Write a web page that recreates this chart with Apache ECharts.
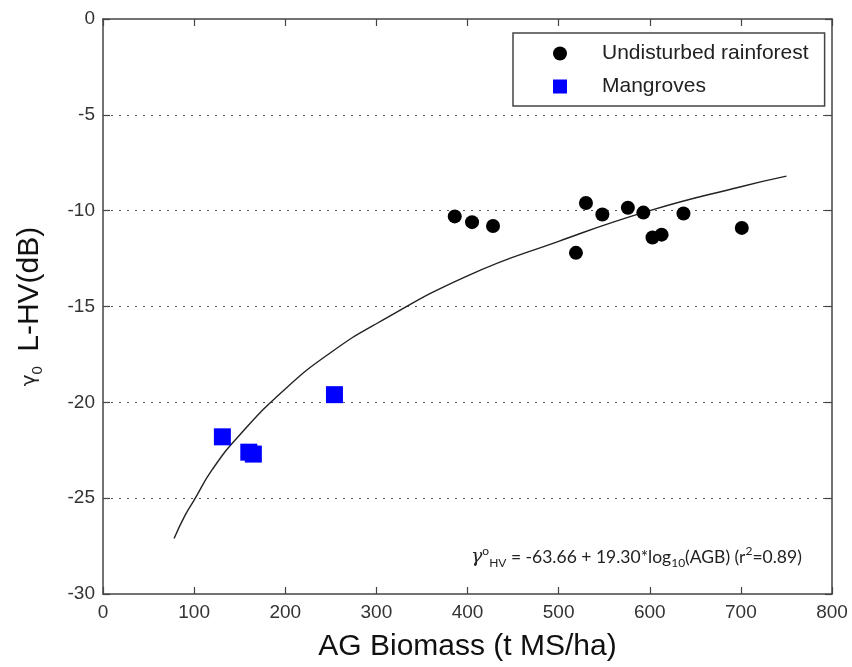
<!DOCTYPE html>
<html>
<head>
<meta charset="utf-8">
<script src="https://cdn.jsdelivr.net/npm/echarts@6/dist/echarts.min.js"></script>
<style>
  html, body { margin: 0; padding: 0; background: #fff; }
  #chart { width: 852px; height: 667px; }
</style>
</head>
<body>
<div id="chart"></div>
<script>
// values
const rainforestX = [386, 405, 428, 519, 530, 548, 576, 593, 603, 613, 637, 701];
const rainforestY = [-10.3, -10.6, -10.8, -12.2, -9.6, -10.2, -9.85, -10.1, -11.4, -11.25, -10.15, -10.9];

const mangroveX = [131, 160, 165, 254];
const mangroveY = [-21.8, -22.6, -22.7, -19.6];

// fitted curve, points
const fitX = [78, 90, 100, 120, 150, 200, 250, 300, 400, 500, 600, 700, 750];
const fitY = [-27.1, -25.9, -25.1, -23.5, -21.7, -19.3, -17.4, -15.9, -13.4, -11.6, -10.0, -8.75, -8.2];

const xTicks = { min: 0, max: 800, interval: 100 };
const yTicks = { min: -30, max: 0, interval: 5 };

const zip = (xs, ys) => xs.map((x, i) => [x, ys[i]]);

const chart = echarts.init(document.getElementById('chart'));

const frame = { show: true, onZero: false, lineStyle: { color: '#444', width: 1.5 } };
const tickIn = { inside: true, length: 7, lineStyle: { color: '#444', width: 1.2 } };
const labelFont = { color: '#333', fontSize: 19, fontFamily: 'Liberation Sans, Arial, sans-serif' };

chart.setOption({
  animation: false,
  grid: { left: 103, right: 20, top: 19, bottom: 72 },
  legend: {
    orient: 'vertical',
    left: 513,
    top: 33,
    itemWidth: 14,
    itemHeight: 14,
    itemGap: 12,
    padding: [10, 16, 9, 40],
    borderColor: '#444',
    borderWidth: 1.5,
    backgroundColor: '#fff',
    textStyle: { fontSize: 21, color: '#222', fontFamily: 'Liberation Sans, Arial, sans-serif', padding: [0, 0, 0, 30] },
    data: ['Undisturbed rainforest', 'Mangroves']
  },
  xAxis: [{
    type: 'value',
    min: xTicks.min, max: xTicks.max, interval: xTicks.interval,
    name: 'AG Biomass (t MS/ha)',
    nameLocation: 'middle',
    nameGap: 38,
    nameTextStyle: { fontSize: 30, color: '#111', fontFamily: 'Liberation Sans, Arial, sans-serif' },
    axisLine: frame,
    axisTick: tickIn,
    axisLabel: Object.assign({ margin: 9 }, labelFont),
    splitLine: { show: false }
  }, {
    type: 'value', position: 'top',
    min: xTicks.min, max: xTicks.max, interval: xTicks.interval,
    axisLine: frame, axisTick: tickIn,
    axisLabel: { show: false }, splitLine: { show: false }
  }],
  yAxis: [{
    type: 'value',
    min: yTicks.min, max: yTicks.max, interval: yTicks.interval,
    name: '{g|γ}{s|0} L-HV(dB)',
    nameLocation: 'middle',
    nameGap: 58,
    nameRotate: 90,
    nameTextStyle: {
      fontSize: 30, color: '#111', fontFamily: 'Liberation Sans, Arial, sans-serif',
      rich: {
        g: { fontSize: 20, color: '#222', fontFamily: 'DejaVu Sans, sans-serif' },
        s: { fontSize: 15, color: '#222', fontFamily: 'Liberation Sans, Arial, sans-serif', verticalAlign: 'bottom', padding: [8, 6, 0, 0] }
      }
    },
    axisLine: frame,
    axisTick: tickIn,
    axisLabel: Object.assign({ margin: 8 }, labelFont),
    splitLine: { show: true, showMinLine: false, showMaxLine: false, lineStyle: { color: '#555', type: [2, 6], width: 1.2 } }
  }, {
    type: 'value', position: 'right',
    min: yTicks.min, max: yTicks.max, interval: yTicks.interval,
    axisLine: frame, axisTick: tickIn,
    axisLabel: { show: false }, splitLine: { show: false }
  }],
  series: [{
    name: 'fit',
    type: 'line',
    data: zip(fitX, fitY),
    smooth: true,
    symbol: 'none',
    lineStyle: { color: '#222', width: 1.4 },
    silent: true,
    z: 2
  }, {
    name: 'Undisturbed rainforest',
    type: 'scatter',
    data: zip(rainforestX, rainforestY),
    symbol: 'circle',
    symbolSize: 14,
    itemStyle: { color: '#000', opacity: 1 },
    z: 3
  }, {
    name: 'Mangroves',
    type: 'scatter',
    data: zip(mangroveX, mangroveY),
    symbol: 'rect',
    symbolSize: 17,
    itemStyle: { color: '#0000ff', opacity: 1 },
    z: 3
  }],
  graphic: [{
    type: 'text',
    left: 471,
    top: 545,
    style: {
      text: '{g|γ}{sup|o}{sub|HV}{t| = -63.66 + 19.30*log}{sub|10}{t|(AGB) (r}{sup|2}{t|=0.89)}',
      fill: '#222',
      rich: {
        t: { fontSize: 17.5, fontFamily: 'Lato, Open Sans, sans-serif', fill: '#222', lineHeight: 24 },
        g: { fontSize: 19, fontFamily: 'DejaVu Serif, serif', fontStyle: 'italic', fill: '#222', lineHeight: 24 },
        sup: { fontSize: 12, fontFamily: 'Lato, Open Sans, sans-serif', fill: '#222', verticalAlign: 'top', lineHeight: 24, padding: [0, 0, 6, 0] },
        sub: { fontSize: 12, fontFamily: 'Lato, Open Sans, sans-serif', fill: '#222', verticalAlign: 'bottom', lineHeight: 24, padding: [6, 0, 0, 0] }
      }
    }
  }]
});
</script>
</body>
</html>
